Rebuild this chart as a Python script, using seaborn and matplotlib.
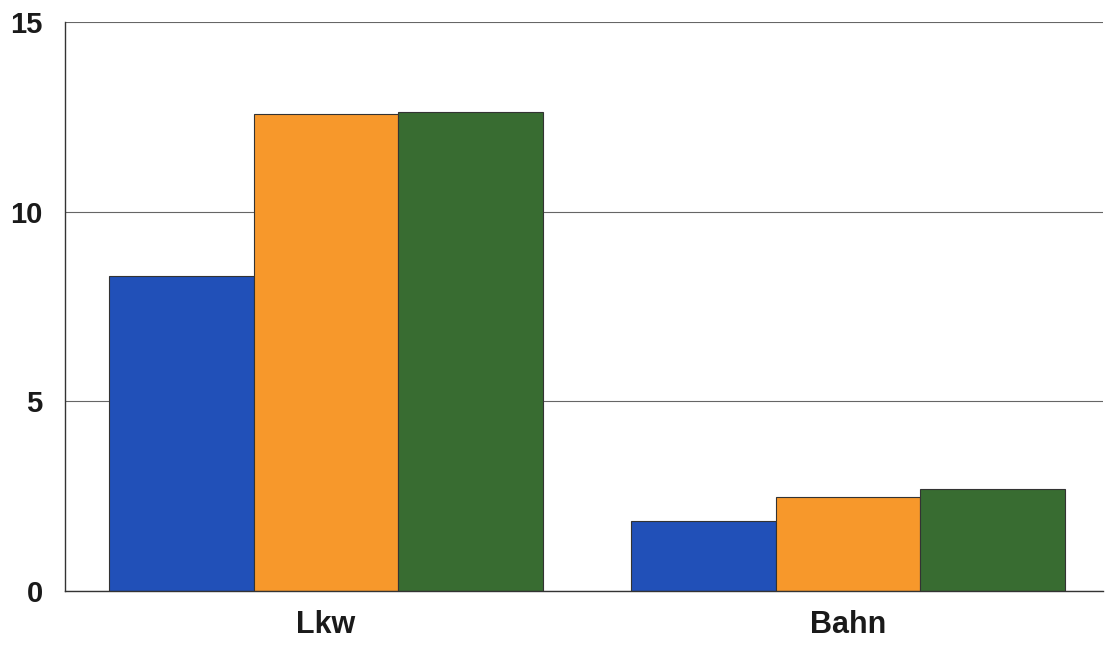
import matplotlib
matplotlib.use("Agg")
import matplotlib.pyplot as plt
import seaborn as sns
import pandas as pd

# Verkehrsträger und Werte je Datenreihe
categories = ["Lkw", "Bahn"]
series = ["Reihe 1", "Reihe 2", "Reihe 3"]
values_reihe1 = [8.30, 1.85]
values_reihe2 = [12.58, 2.48]
values_reihe3 = [12.63, 2.69]
y_ticks = [0, 5, 10, 15]

colors = ["#2150b8", "#f7982b", "#386c31"]

rows = []
for name, vals in zip(series, [values_reihe1, values_reihe2, values_reihe3]):
    for cat, v in zip(categories, vals):
        rows.append({"Kategorie": cat, "Reihe": name, "Wert": v})
df = pd.DataFrame(rows)

sns.set_theme(style="white")
plt.rcParams["font.family"] = ["Liberation Sans", "DejaVu Sans"]

fig = plt.figure(figsize=(11.05, 6.45), dpi=100)
ax = fig.add_axes([0.0588, 0.0837, 0.9392, 0.8822])

sns.barplot(data=df, x="Kategorie", y="Wert", hue="Reihe", order=categories,
            hue_order=series, palette=colors, width=0.83, gap=0,
            edgecolor="#333333", linewidth=0.8, saturation=1, ax=ax,
            legend=False, errorbar=None)

ax.set_xlim(-0.5, 1.488)
ax.set_ylim(0, 15)
ax.set_yticks(y_ticks)
ax.set_yticklabels([str(t) for t in y_ticks], fontsize=21, fontweight="bold",
                   color="#1a1a1a")
ax.set_xticks(range(len(categories)))
ax.set_xticklabels(categories, fontsize=22, fontweight="bold", color="#1a1a1a")
ax.tick_params(axis="y", length=0, pad=16)
ax.tick_params(axis="x", length=0, pad=14)
ax.set_xlabel("")
ax.set_ylabel("")

ax.yaxis.grid(True, color="#666666", linewidth=0.8)
ax.set_axisbelow(True)
for side in ["top", "right"]:
    ax.spines[side].set_visible(False)
for side in ["left", "bottom"]:
    ax.spines[side].set_color("#333333")
    ax.spines[side].set_linewidth(1.0)

fig.savefig("out.png", dpi=100)
